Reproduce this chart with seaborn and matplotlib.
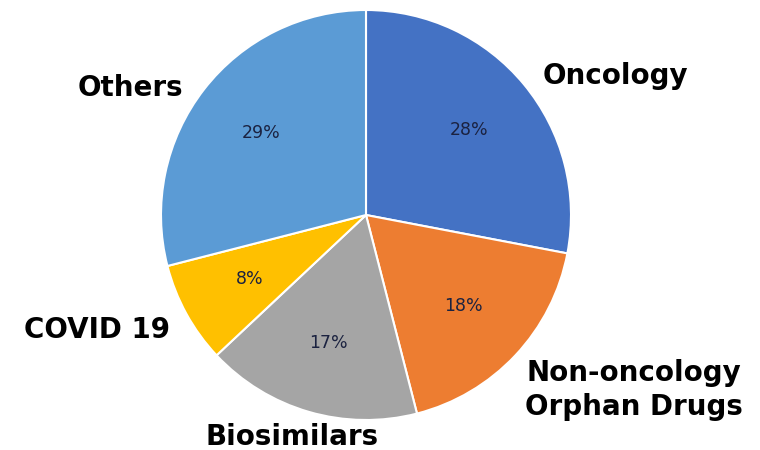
import matplotlib
matplotlib.use("Agg")
import matplotlib.pyplot as plt
import seaborn as sns

categories = ["Oncology", "Non-oncology\nOrphan Drugs", "Biosimilars", "COVID 19", "Others"]
shares = [28, 18, 17, 8, 29]
colors = ["#4472C4", "#ED7D31", "#A5A5A5", "#FFC000", "#5B9BD5"]
# label centres in pixel coordinates (from top-left)
label_xy = [(615, 76), (634, 390), (292, 437), (97, 330), (130, 88)]

sns.set_theme(style="white")
plt.rcParams['font.family'] = ['DejaVu Sans']

W, H = 760, 450
fig = plt.figure(figsize=(7.6, 4.5), dpi=100)
ax = fig.add_axes([0, 0, 1, 1])

pal = sns.color_palette(colors)
wedges, texts, autotexts = ax.pie(
    shares, colors=pal, startangle=90, counterclock=False,
    center=(366, H - 215), radius=205, frame=True,
    autopct='%d%%', pctdistance=0.65,
    wedgeprops=dict(edgecolor='white', linewidth=1.5),
    textprops=dict(fontsize=12.5, color='#1b2240'))
ax.set_xlim(0, W)
ax.set_ylim(0, H)
ax.set_aspect('equal')
ax.axis('off')

for name, (x, y) in zip(categories, label_xy):
    ax.text(x, H - y, name, ha='center', va='center', fontsize=20,
            fontweight='bold', color='black', linespacing=1.3)

fig.savefig("out.png", dpi=100)
